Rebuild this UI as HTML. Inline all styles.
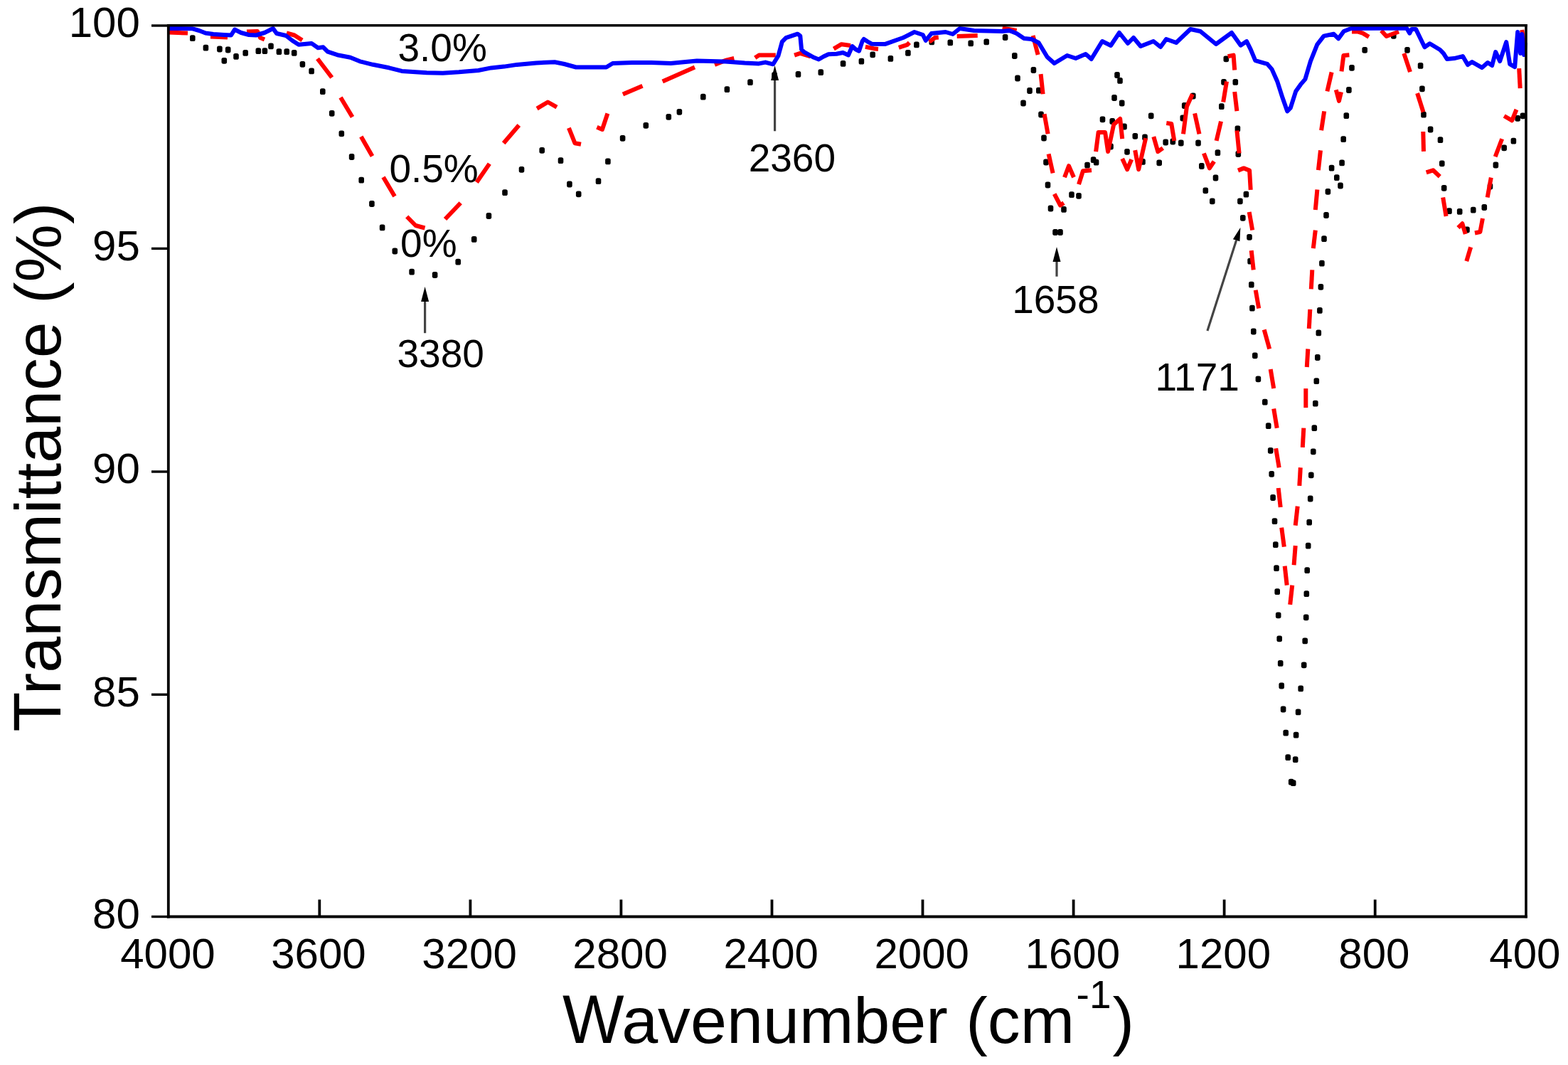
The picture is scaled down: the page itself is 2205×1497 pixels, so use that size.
<!DOCTYPE html>
<html><head><meta charset="utf-8"><title>FTIR spectra</title>
<style>html,body{margin:0;padding:0;background:#fff;}svg{display:block;}</style></head>
<body><svg width="2205" height="1497" viewBox="0 0 2205 1497">
<rect width="2205" height="1497" fill="#fff"/>
<g fill="#000"><rect x="267.0" y="49.2" width="7.6" height="8.8" rx="2.6"/><rect x="285.6" y="62.8" width="7.6" height="8.8" rx="2.6"/><rect x="305.1" y="64.6" width="7.6" height="8.8" rx="2.6"/><rect x="316.9" y="65.6" width="7.6" height="8.8" rx="2.6"/><rect x="311.5" y="80.9" width="7.6" height="8.8" rx="2.6"/><rect x="328.2" y="75.0" width="7.6" height="8.8" rx="2.6"/><rect x="341.4" y="70.0" width="7.6" height="8.8" rx="2.6"/><rect x="359.5" y="67.3" width="7.6" height="8.8" rx="2.6"/><rect x="368.6" y="67.3" width="7.6" height="8.8" rx="2.6"/><rect x="377.2" y="60.5" width="7.6" height="8.8" rx="2.6"/><rect x="388.6" y="68.2" width="7.6" height="8.8" rx="2.6"/><rect x="399.4" y="68.2" width="7.6" height="8.8" rx="2.6"/><rect x="409.9" y="70.0" width="7.6" height="8.8" rx="2.6"/><rect x="421.6" y="85.9" width="7.6" height="8.8" rx="2.6"/><rect x="434.3" y="95.5" width="7.6" height="8.8" rx="2.6"/><rect x="450.0" y="124.2" width="7.6" height="8.8" rx="2.6"/><rect x="462.9" y="154.9" width="7.6" height="8.8" rx="2.6"/><rect x="476.5" y="183.4" width="7.6" height="8.8" rx="2.6"/><rect x="490.8" y="216.1" width="7.6" height="8.8" rx="2.6"/><rect x="504.4" y="248.7" width="7.6" height="8.8" rx="2.6"/><rect x="519.1" y="282.1" width="7.6" height="8.8" rx="2.6"/><rect x="533.8" y="315.5" width="7.6" height="8.8" rx="2.6"/><rect x="551.5" y="348.6" width="7.6" height="8.8" rx="2.6"/><rect x="575.3" y="377.8" width="7.6" height="8.8" rx="2.6"/><rect x="607.8" y="382.1" width="7.6" height="8.8" rx="2.6"/><rect x="640.4" y="363.8" width="7.6" height="8.8" rx="2.6"/><rect x="662.9" y="332.0" width="7.6" height="8.8" rx="2.6"/><rect x="683.6" y="299.1" width="7.6" height="8.8" rx="2.6"/><rect x="706.2" y="266.2" width="7.6" height="8.8" rx="2.6"/><rect x="729.7" y="233.9" width="7.6" height="8.8" rx="2.6"/><rect x="758.4" y="206.9" width="7.6" height="8.8" rx="2.6"/><rect x="784.7" y="221.3" width="7.6" height="8.8" rx="2.6"/><rect x="797.1" y="254.6" width="7.6" height="8.8" rx="2.6"/><rect x="809.9" y="268.4" width="7.6" height="8.8" rx="2.6"/><rect x="837.7" y="250.3" width="7.6" height="8.8" rx="2.6"/><rect x="851.1" y="222.5" width="7.6" height="8.8" rx="2.6"/><rect x="871.8" y="189.9" width="7.6" height="8.8" rx="2.6"/><rect x="904.5" y="171.9" width="7.6" height="8.8" rx="2.6"/><rect x="936.5" y="159.9" width="7.6" height="8.8" rx="2.6"/><rect x="951.6" y="152.9" width="7.6" height="8.8" rx="2.6"/><rect x="985.0" y="131.7" width="7.6" height="8.8" rx="2.6"/><rect x="1018.6" y="121.3" width="7.6" height="8.8" rx="2.6"/><rect x="1051.2" y="111.3" width="7.6" height="8.8" rx="2.6"/><rect x="1085.2" y="101.3" width="7.6" height="8.8" rx="2.6"/><rect x="1118.7" y="100.0" width="7.6" height="8.8" rx="2.6"/><rect x="1150.5" y="97.3" width="7.6" height="8.8" rx="2.6"/><rect x="1181.8" y="85.0" width="7.6" height="8.8" rx="2.6"/><rect x="1207.6" y="81.8" width="7.6" height="8.8" rx="2.6"/><rect x="1223.4" y="72.4" width="7.6" height="8.8" rx="2.6"/><rect x="1248.6" y="78.0" width="7.6" height="8.8" rx="2.6"/><rect x="1273.1" y="70.0" width="7.6" height="8.8" rx="2.6"/><rect x="1285.1" y="58.5" width="7.6" height="8.8" rx="2.6"/><rect x="1306.5" y="54.5" width="7.6" height="8.8" rx="2.6"/><rect x="1332.5" y="55.5" width="7.6" height="8.8" rx="2.6"/><rect x="1361.4" y="56.5" width="7.6" height="8.8" rx="2.6"/><rect x="1383.4" y="54.5" width="7.6" height="8.8" rx="2.6"/><rect x="1409.8" y="48.1" width="7.6" height="8.8" rx="2.6"/><rect x="1423.0" y="74.1" width="7.6" height="8.8" rx="2.6"/><rect x="1427.2" y="105.6" width="7.6" height="8.8" rx="2.6"/><rect x="1435.2" y="140.6" width="7.6" height="8.8" rx="2.6"/><rect x="1444.2" y="123.1" width="7.6" height="8.8" rx="2.6"/><rect x="1449.6" y="94.1" width="7.6" height="8.8" rx="2.6"/><rect x="1457.0" y="122.7" width="7.6" height="8.8" rx="2.6"/><rect x="1460.2" y="156.6" width="7.6" height="8.8" rx="2.6"/><rect x="1464.2" y="189.6" width="7.6" height="8.8" rx="2.6"/><rect x="1467.2" y="223.6" width="7.6" height="8.8" rx="2.6"/><rect x="1469.7" y="255.6" width="7.6" height="8.8" rx="2.6"/><rect x="1473.7" y="288.6" width="7.6" height="8.8" rx="2.6"/><rect x="1480.2" y="322.1" width="7.6" height="8.8" rx="2.6"/><rect x="1487.2" y="322.1" width="7.6" height="8.8" rx="2.6"/><rect x="1492.2" y="290.0" width="7.6" height="8.8" rx="2.6"/><rect x="1503.2" y="269.3" width="7.6" height="8.8" rx="2.6"/><rect x="1513.2" y="270.9" width="7.6" height="8.8" rx="2.6"/><rect x="1525.2" y="227.8" width="7.6" height="8.8" rx="2.6"/><rect x="1533.8" y="220.2" width="7.6" height="8.8" rx="2.6"/><rect x="1537.8" y="223.8" width="7.6" height="8.8" rx="2.6"/><rect x="1546.7" y="163.4" width="7.6" height="8.8" rx="2.6"/><rect x="1558.2" y="201.6" width="7.6" height="8.8" rx="2.6"/><rect x="1560.4" y="166.1" width="7.6" height="8.8" rx="2.6"/><rect x="1563.2" y="133.1" width="7.6" height="8.8" rx="2.6"/><rect x="1573.9" y="140.6" width="7.6" height="8.8" rx="2.6"/><rect x="1567.2" y="101.1" width="7.6" height="8.8" rx="2.6"/><rect x="1571.2" y="109.0" width="7.6" height="8.8" rx="2.6"/><rect x="1577.2" y="173.6" width="7.6" height="8.8" rx="2.6"/><rect x="1581.2" y="208.9" width="7.6" height="8.8" rx="2.6"/><rect x="1592.5" y="186.9" width="7.6" height="8.8" rx="2.6"/><rect x="1603.2" y="223.0" width="7.6" height="8.8" rx="2.6"/><rect x="1606.2" y="188.6" width="7.6" height="8.8" rx="2.6"/><rect x="1614.9" y="158.4" width="7.6" height="8.8" rx="2.6"/><rect x="1626.4" y="224.4" width="7.6" height="8.8" rx="2.6"/><rect x="1635.4" y="195.6" width="7.6" height="8.8" rx="2.6"/><rect x="1645.5" y="194.6" width="7.6" height="8.8" rx="2.6"/><rect x="1657.0" y="196.6" width="7.6" height="8.8" rx="2.6"/><rect x="1659.5" y="161.6" width="7.6" height="8.8" rx="2.6"/><rect x="1661.9" y="144.1" width="7.6" height="8.8" rx="2.6"/><rect x="1674.0" y="130.6" width="7.6" height="8.8" rx="2.6"/><rect x="1681.2" y="196.6" width="7.6" height="8.8" rx="2.6"/><rect x="1686.0" y="229.1" width="7.6" height="8.8" rx="2.6"/><rect x="1691.5" y="263.4" width="7.6" height="8.8" rx="2.6"/><rect x="1701.0" y="278.4" width="7.6" height="8.8" rx="2.6"/><rect x="1705.7" y="245.6" width="7.6" height="8.8" rx="2.6"/><rect x="1708.6" y="210.2" width="7.6" height="8.8" rx="2.6"/><rect x="1714.0" y="145.3" width="7.6" height="8.8" rx="2.6"/><rect x="1717.2" y="110.9" width="7.6" height="8.8" rx="2.6"/><rect x="1720.5" y="78.4" width="7.6" height="8.8" rx="2.6"/><rect x="1733.5" y="111.0" width="7.6" height="8.8" rx="2.6"/><rect x="1736.6" y="176.6" width="7.6" height="8.8" rx="2.6"/><rect x="1737.5" y="212.1" width="7.6" height="8.8" rx="2.6"/><rect x="1740.1" y="278.4" width="7.6" height="8.8" rx="2.6"/><rect x="1748.6" y="268.8" width="7.6" height="8.8" rx="2.6"/><rect x="1744.0" y="301.9" width="7.6" height="8.8" rx="2.6"/><rect x="1753.2" y="328.9" width="7.6" height="8.8" rx="2.6"/><rect x="1754.3" y="362.7" width="7.6" height="8.8" rx="2.6"/><rect x="1756.0" y="395.7" width="7.6" height="8.8" rx="2.6"/><rect x="1757.1" y="428.8" width="7.6" height="8.8" rx="2.6"/><rect x="1759.0" y="461.6" width="7.6" height="8.8" rx="2.6"/><rect x="1761.0" y="495.4" width="7.6" height="8.8" rx="2.6"/><rect x="1765.6" y="528.4" width="7.6" height="8.8" rx="2.6"/><rect x="1775.0" y="560.8" width="7.6" height="8.8" rx="2.6"/><rect x="1779.9" y="594.3" width="7.6" height="8.8" rx="2.6"/><rect x="1782.9" y="628.9" width="7.6" height="8.8" rx="2.6"/><rect x="1784.4" y="661.9" width="7.6" height="8.8" rx="2.6"/><rect x="1786.3" y="695.1" width="7.6" height="8.8" rx="2.6"/><rect x="1788.7" y="728.2" width="7.6" height="8.8" rx="2.6"/><rect x="1790.0" y="761.2" width="7.6" height="8.8" rx="2.6"/><rect x="1791.2" y="794.3" width="7.6" height="8.8" rx="2.6"/><rect x="1792.4" y="827.3" width="7.6" height="8.8" rx="2.6"/><rect x="1793.9" y="860.4" width="7.6" height="8.8" rx="2.6"/><rect x="1795.4" y="893.4" width="7.6" height="8.8" rx="2.6"/><rect x="1796.9" y="928.0" width="7.6" height="8.8" rx="2.6"/><rect x="1798.4" y="959.6" width="7.6" height="8.8" rx="2.6"/><rect x="1800.8" y="992.6" width="7.6" height="8.8" rx="2.6"/><rect x="1804.4" y="1025.7" width="7.6" height="8.8" rx="2.6"/><rect x="1807.4" y="1060.2" width="7.6" height="8.8" rx="2.6"/><rect x="1811.9" y="1094.8" width="7.6" height="8.8" rx="2.6"/><rect x="1814.9" y="1096.3" width="7.6" height="8.8" rx="2.6"/><rect x="1817.9" y="1063.2" width="7.6" height="8.8" rx="2.6"/><rect x="1818.8" y="1028.7" width="7.6" height="8.8" rx="2.6"/><rect x="1821.8" y="996.5" width="7.6" height="8.8" rx="2.6"/><rect x="1825.4" y="963.5" width="7.6" height="8.8" rx="2.6"/><rect x="1829.9" y="930.4" width="7.6" height="8.8" rx="2.6"/><rect x="1831.4" y="896.5" width="7.6" height="8.8" rx="2.6"/><rect x="1832.9" y="863.4" width="7.6" height="8.8" rx="2.6"/><rect x="1833.5" y="830.3" width="7.6" height="8.8" rx="2.6"/><rect x="1834.4" y="797.3" width="7.6" height="8.8" rx="2.6"/><rect x="1835.9" y="762.7" width="7.6" height="8.8" rx="2.6"/><rect x="1837.4" y="729.7" width="7.6" height="8.8" rx="2.6"/><rect x="1838.9" y="696.6" width="7.6" height="8.8" rx="2.6"/><rect x="1840.0" y="663.4" width="7.6" height="8.8" rx="2.6"/><rect x="1843.0" y="630.4" width="7.6" height="8.8" rx="2.6"/><rect x="1844.5" y="597.3" width="7.6" height="8.8" rx="2.6"/><rect x="1846.0" y="562.7" width="7.6" height="8.8" rx="2.6"/><rect x="1847.5" y="531.2" width="7.6" height="8.8" rx="2.6"/><rect x="1849.0" y="498.1" width="7.6" height="8.8" rx="2.6"/><rect x="1850.5" y="463.5" width="7.6" height="8.8" rx="2.6"/><rect x="1852.1" y="432.0" width="7.6" height="8.8" rx="2.6"/><rect x="1853.6" y="398.9" width="7.6" height="8.8" rx="2.6"/><rect x="1855.1" y="365.8" width="7.6" height="8.8" rx="2.6"/><rect x="1858.2" y="331.3" width="7.6" height="8.8" rx="2.6"/><rect x="1861.2" y="298.1" width="7.6" height="8.8" rx="2.6"/><rect x="1863.6" y="264.9" width="7.6" height="8.8" rx="2.6"/><rect x="1868.8" y="231.7" width="7.6" height="8.8" rx="2.6"/><rect x="1876.0" y="245.2" width="7.6" height="8.8" rx="2.6"/><rect x="1881.2" y="256.6" width="7.6" height="8.8" rx="2.6"/><rect x="1883.3" y="224.5" width="7.6" height="8.8" rx="2.6"/><rect x="1885.4" y="191.3" width="7.6" height="8.8" rx="2.6"/><rect x="1889.5" y="158.2" width="7.6" height="8.8" rx="2.6"/><rect x="1893.1" y="122.1" width="7.6" height="8.8" rx="2.6"/><rect x="1897.2" y="90.9" width="7.6" height="8.8" rx="2.6"/><rect x="1915.4" y="65.9" width="7.6" height="8.8" rx="2.6"/><rect x="1956.0" y="45.9" width="7.6" height="8.8" rx="2.6"/><rect x="1975.2" y="65.9" width="7.6" height="8.8" rx="2.6"/><rect x="1993.8" y="88.0" width="7.6" height="8.8" rx="2.6"/><rect x="1996.1" y="120.4" width="7.6" height="8.8" rx="2.6"/><rect x="1998.2" y="156.8" width="7.6" height="8.8" rx="2.6"/><rect x="2007.8" y="177.6" width="7.6" height="8.8" rx="2.6"/><rect x="2021.7" y="192.3" width="7.6" height="8.8" rx="2.6"/><rect x="2024.0" y="225.4" width="7.6" height="8.8" rx="2.6"/><rect x="2026.9" y="259.9" width="7.6" height="8.8" rx="2.6"/><rect x="2034.2" y="292.2" width="7.6" height="8.8" rx="2.6"/><rect x="2048.9" y="293.0" width="7.6" height="8.8" rx="2.6"/><rect x="2059.2" y="318.6" width="7.6" height="8.8" rx="2.6"/><rect x="2068.0" y="290.8" width="7.6" height="8.8" rx="2.6"/><rect x="2083.5" y="287.1" width="7.6" height="8.8" rx="2.6"/><rect x="2091.7" y="257.6" width="7.6" height="8.8" rx="2.6"/><rect x="2099.6" y="227.6" width="7.6" height="8.8" rx="2.6"/><rect x="2111.4" y="203.4" width="7.6" height="8.8" rx="2.6"/><rect x="2124.6" y="193.8" width="7.6" height="8.8" rx="2.6"/><rect x="2130.4" y="161.9" width="7.6" height="8.8" rx="2.6"/><rect x="2137.7" y="158.4" width="7.6" height="8.8" rx="2.6"/></g>
<g fill="none" stroke="#f00" stroke-width="6" stroke-linejoin="round" stroke-linecap="butt"><polyline points="237.0,45.5 264.0,46.5"/><polyline points="296.0,51.5 320.0,52.5"/><polyline points="347.0,44.5 362.0,44.0 366.0,53.0 372.0,55.5"/><polyline points="403.0,46.5 414.0,49.5 425.0,56.5"/><polyline points="446.5,82.5 466.7,109.0"/><polyline points="479.0,137.0 495.5,164.5"/><polyline points="507.8,192.0 523.5,219.5"/><polyline points="539.0,249.0 555.0,276.0"/><polyline points="572.2,304.5 584.5,317.0 597.5,320.5"/><polyline points="626.0,308.0 647.7,285.2"/><polyline points="670.3,256.3 688.3,230.1"/><polyline points="708.2,201.3 729.8,176.0"/><polyline points="755.1,152.6 770.4,143.5 783.0,150.7"/><polyline points="799.9,179.9 808.4,201.2 817.0,202.8"/><polyline points="839.4,178.8 846.9,182.0 854.4,159.5"/><polyline points="875.9,132.5 903.5,120.7"/><polyline points="931.7,114.4 977.0,94.4"/><polyline points="1005.0,91.0 1020.0,85.0 1032.3,82.0"/><polyline points="1061.8,81.3 1067.2,77.6 1090.8,77.6"/><polyline points="1117.1,77.6 1125.3,74.9 1130.7,76.7 1139.8,79.4"/><polyline points="1172.4,68.6 1183.3,62.2 1196.0,64.0"/><polyline points="1216.9,65.8 1230.5,68.6 1235.0,69.0"/><polyline points="1263.9,66.9 1275.9,62.9 1278.9,59.9"/><polyline points="1306.8,58.9 1314.8,53.0 1319.8,52.5"/><polyline points="1345.7,51.0 1374.7,50.0"/><polyline points="1409.6,39.5 1429.6,43.0"/><polyline points="1452.6,50.0 1459.6,77.1"/><polyline points="1463.6,104.1 1466.6,132.2"/><polyline points="1468.6,160.3 1473.6,188.3"/><polyline points="1474.6,216.4 1480.6,243.4"/><polyline points="1482.7,272.6 1491.0,288.5 1496.0,285.2"/><polyline points="1497.0,249.2 1503.0,233.2 1510.0,249.2"/><polyline points="1517.0,259.2 1523.0,240.2 1535.0,239.2"/><polyline points="1541.1,213.1 1544.6,186.1 1554.1,186.1 1558.1,213.1 1566.2,175.0 1575.2,167.0 1578.2,195.1"/><polyline points="1578.2,223.1 1585.2,238.2 1591.2,224.1"/><polyline points="1596.2,211.1 1601.2,238.2 1611.2,194.1"/><polyline points="1622.3,192.1 1628.3,213.1 1635.3,208.1"/><polyline points="1640.3,173.0 1647.3,174.0 1651.3,198.1"/><polyline points="1664.0,188.3 1668.9,149.8 1676.9,132.2"/><polyline points="1680.1,159.4 1686.5,188.3"/><polyline points="1692.9,215.5 1700.9,236.4 1707.3,226.8"/><polyline points="1710.6,197.9 1717.0,170.6"/><polyline points="1720.2,143.4 1725.0,114.5"/><polyline points="1726.6,79.2 1734.6,77.6 1736.2,98.5"/><polyline points="1736.2,129.0 1739.4,156.2"/><polyline points="1739.4,183.5 1742.6,215.5"/><polyline points="1741.0,239.6 1749.0,236.4 1757.1,239.6 1758.7,266.9"/><polyline points="1756.7,298.0 1761.2,323.6"/><polyline points="1759.7,352.2 1762.7,379.3"/><polyline points="1765.7,407.8 1770.2,433.4"/><polyline points="1777.7,463.4 1785.2,490.5"/><polyline points="1786.7,519.0 1791.2,546.1"/><polyline points="1791.2,574.6 1795.7,601.7"/><polyline points="1794.2,630.2 1798.7,657.3"/><polyline points="1797.7,686.0 1800.7,713.0"/><polyline points="1802.2,741.6 1805.8,768.6"/><polyline points="1806.7,795.7 1809.7,822.7"/><polyline points="1814.2,849.8 1817.2,822.7"/><polyline points="1819.6,794.2 1821.7,767.1"/><polyline points="1821.7,738.6 1824.7,711.6"/><polyline points="1827.3,682.9 1828.8,657.3"/><polyline points="1831.8,628.8 1833.3,601.7"/><polyline points="1836.3,573.1 1836.3,546.1"/><polyline points="1837.8,516.0 1839.3,490.5"/><polyline points="1840.8,461.9 1842.3,434.9"/><polyline points="1843.8,406.3 1845.3,379.3"/><polyline points="1846.8,349.2 1849.8,323.6"/><polyline points="1849.8,295.1 1852.4,266.5"/><polyline points="1853.9,239.2 1857.0,211.3"/><polyline points="1858.1,183.3 1862.2,156.4"/><polyline points="1866.4,128.4 1872.6,101.5"/><polyline points="1878.8,126.3 1883.0,141.9 1886.0,129.4"/><polyline points="1886.5,100.4 1889.4,77.9 1897.4,77.2"/><polyline points="1901.0,44.5 1909.0,44.5 1916.3,46.7 1925.0,51.8"/><polyline points="1942.4,43.0 1949.7,51.0 1967.0,44.5"/><polyline points="1974.3,75.0 1983.0,101.1"/><polyline points="1993.1,131.0 2001.5,157.5"/><polyline points="2001.3,185.0 2002.0,212.9"/><polyline points="2005.7,242.3 2015.3,239.3 2024.8,248.2"/><polyline points="2029.2,277.5 2033.6,304.0"/><polyline points="2050.5,320.2 2056.4,314.3 2060.8,329.0"/><polyline points="2062.3,367.2 2068.2,347.3"/><polyline points="2074.0,327.5 2081.4,326.0 2085.0,307.0"/><polyline points="2091.7,277.5 2096.8,249.6"/><polyline points="2102.7,220.2 2112.2,195.3"/><polyline points="2115.2,163.0 2126.2,169.3 2132.5,154.0"/><polyline points="2136.2,96.2 2137.7,124.2"/><polyline points="2140.3,42.0 2143.3,65.1"/></g>
<polyline points="237.0,40.0 270.0,40.2 280.0,43.0 289.0,46.5 300.0,48.0 315.0,49.0 325.0,49.5 330.0,41.5 339.0,46.0 350.0,49.0 360.0,49.5 372.0,46.0 384.0,40.0 389.0,47.0 402.0,50.0 411.0,57.0 420.0,62.7 438.1,60.9 447.2,67.2 454.5,66.3 460.8,72.7 474.4,77.2 492.6,80.8 506.2,86.3 524.3,90.8 547.0,95.3 565.1,99.9 600.0,102.2 622.7,102.7 645.4,101.3 672.6,99.0 690.7,95.4 708.8,93.6 727.0,90.9 754.2,88.5 780.0,87.2 793.6,90.0 810.0,94.5 852.6,94.5 861.6,89.0 888.8,88.1 916.0,88.1 943.3,89.0 961.4,87.2 980.0,85.4 1020.0,86.5 1047.3,88.5 1067.2,89.4 1076.3,87.6 1087.2,90.3 1094.4,78.5 1099.9,58.6 1105.3,53.1 1121.6,47.7 1125.3,50.4 1127.1,69.5 1130.7,73.1 1144.5,80.8 1151.3,83.5 1158.1,79.5 1165.0,76.3 1176.3,75.8 1185.4,74.0 1193.0,77.5 1198.5,65.0 1203.5,69.5 1208.0,71.7 1212.6,58.1 1214.8,55.0 1219.4,58.1 1226.2,61.8 1245.0,61.9 1270.0,53.0 1285.9,45.0 1297.8,49.0 1301.8,57.0 1309.8,47.0 1329.8,45.0 1339.8,48.0 1349.7,40.0 1369.7,43.0 1409.6,44.0 1419.6,43.0 1429.6,47.0 1440.0,54.0 1450.6,55.0 1460.6,60.0 1472.6,80.0 1482.6,89.0 1500.7,78.0 1512.7,82.0 1526.7,76.0 1534.7,83.0 1550.0,58.0 1562.0,64.0 1574.0,46.0 1586.0,61.0 1594.0,53.0 1604.0,65.0 1622.0,58.0 1632.0,66.0 1640.0,55.0 1654.0,60.0 1674.0,41.0 1688.0,44.0 1710.0,62.0 1732.0,46.0 1744.7,63.7 1753.1,58.1 1758.7,69.3 1765.3,85.2 1782.1,89.9 1788.6,97.4 1796.1,114.2 1803.6,137.6 1810.2,156.3 1814.8,151.6 1822.3,128.2 1828.9,118.9 1835.4,111.4 1842.9,86.1 1852.3,62.7 1861.6,50.6 1875.6,47.8 1882.2,54.3 1889.7,44.0 1900.0,40.0 1978.0,39.4 1982.3,46.7 1985.2,40.9 1991.0,40.9 2003.4,66.3 2010.6,61.2 2025.1,70.0 2030.0,75.1 2035.0,83.1 2045.0,82.1 2057.0,79.1 2064.0,91.1 2070.1,87.1 2084.1,95.1 2092.1,88.1 2098.2,92.1 2103.2,73.1 2109.2,86.1 2118.2,59.1 2123.2,90.1 2130.2,94.1 2134.2,45.0 2138.2,75.1 2140.3,48.0 2143.3,77.1 2145.0,60.0" fill="none" stroke="#00f" stroke-width="6" stroke-linejoin="round"/>
<g stroke="#000" stroke-linecap="square" fill="none">
<line x1="236.8" y1="35.8" x2="2146" y2="35.8" stroke-width="3.6"/>
<line x1="236.8" y1="1288.5" x2="2146" y2="1288.5" stroke-width="3.8"/>
<line x1="236.8" y1="35.8" x2="236.8" y2="1288.5" stroke-width="3.8"/>
<line x1="2146" y1="35.8" x2="2146" y2="1288.5" stroke-width="3.6"/>
</g>
<g stroke="#000" stroke-width="3.4">
<line x1="213" y1="36.0" x2="236" y2="36.0"/>
<line x1="213" y1="349.4" x2="236" y2="349.4"/>
<line x1="213" y1="663.0" x2="236" y2="663.0"/>
<line x1="213" y1="976.3" x2="236" y2="976.3"/>
<line x1="213" y1="1288.5" x2="236" y2="1288.5"/>
</g>
<g stroke="#000" stroke-width="3.8">
<line x1="449.3" y1="1264.5" x2="449.3" y2="1288"/>
<line x1="661.4" y1="1264.5" x2="661.4" y2="1288"/>
<line x1="873.4" y1="1264.5" x2="873.4" y2="1288"/>
<line x1="1085.5" y1="1264.5" x2="1085.5" y2="1288"/>
<line x1="1297.5" y1="1264.5" x2="1297.5" y2="1288"/>
<line x1="1509.6" y1="1264.5" x2="1509.6" y2="1288"/>
<line x1="1721.6" y1="1264.5" x2="1721.6" y2="1288"/>
<line x1="1933.7" y1="1264.5" x2="1933.7" y2="1288"/>
</g>
<g font-family="Liberation Sans, Arial, sans-serif" font-size="60" fill="#000">
<text x="196.8" y="52.4" text-anchor="end">100</text>
<text x="196.8" y="365.8" text-anchor="end">95</text>
<text x="196.8" y="679.4" text-anchor="end">90</text>
<text x="196.8" y="992.7" text-anchor="end">85</text>
<text x="196.8" y="1304.9" text-anchor="end">80</text>
<text x="236.0" y="1361" text-anchor="middle">4000</text>
<text x="448.0" y="1361" text-anchor="middle">3600</text>
<text x="660.1" y="1361" text-anchor="middle">3200</text>
<text x="872.1" y="1361" text-anchor="middle">2800</text>
<text x="1084.2" y="1361" text-anchor="middle">2400</text>
<text x="1296.2" y="1361" text-anchor="middle">2000</text>
<text x="1508.3" y="1361" text-anchor="middle">1600</text>
<text x="1720.3" y="1361" text-anchor="middle">1200</text>
<text x="1932.4" y="1361" text-anchor="middle">800</text>
<text x="2144.4" y="1361" text-anchor="middle">400</text>
</g>
<g font-family="Liberation Sans, Arial, sans-serif" font-size="91.5" transform="translate(84.8,1028.6) rotate(-90)"><text transform="scale(1,1.042)">T</text><text x="52.48">ransmittance (%)</text></g>
<text font-family="Liberation Sans, Arial, sans-serif" font-size="91.7" transform="translate(791,1465.5) scale(1,1.042)">W</text>
<text font-family="Liberation Sans, Arial, sans-serif" font-size="91.7" x="874.13" y="1465.5">avenumber (cm<tspan font-size="55" dx="2.5" dy="-48.5">-1</tspan><tspan dx="2" dy="48.5">)</tspan></text>
<g font-family="Liberation Sans, Arial, sans-serif" font-size="55" fill="#000">
<text x="559.5" y="86">3.0%</text>
<text x="547.4" y="255.6">0.5%</text>
<text x="563.1" y="360.5">0%</text>
<text x="1052.7" y="241">2360</text>
<text x="558.5" y="515.5">3380</text>
<text x="1423.2" y="440.3">1658</text>
<text x="1624.6" y="549">1171</text>
</g>
<line x1="597.6" y1="468.2" x2="597.6" y2="424.0" stroke="#444" stroke-width="3.2"/><polygon points="597.6,403 603.1,424.0 592.1,424.0" fill="#000"/>
<line x1="1089.6" y1="184.3" x2="1089.6" y2="113.0" stroke="#444" stroke-width="3.2"/><polygon points="1089.6,92 1095.1,113.0 1084.1,113.0" fill="#000"/>
<line x1="1486" y1="388.7" x2="1486.0" y2="368.0" stroke="#444" stroke-width="3.2"/><polygon points="1486,347 1491.5,368.0 1480.5,368.0" fill="#000"/>
<line x1="1697.9" y1="465.1" x2="1738.6" y2="337.8" stroke="#444" stroke-width="3.2"/><polygon points="1744.4,319.7 1743.4,339.3 1733.9,336.3" fill="#000"/>
</svg></body></html>
